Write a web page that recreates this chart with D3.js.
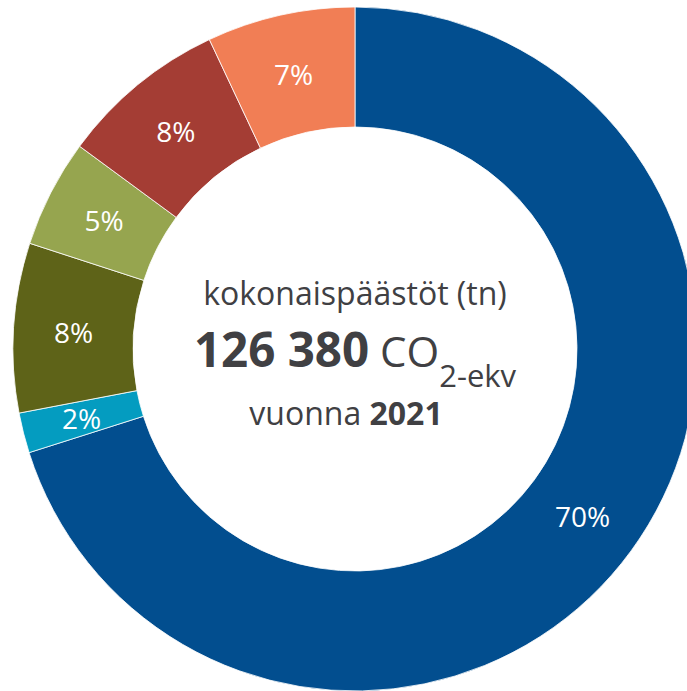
<!DOCTYPE html>
<html>
<head>
    <meta charset="utf-8">
    <title>kokonaispaastot</title>
    <style>
        body { margin: 0; background: #fff; }
    </style>
</head>
<body>
<script src="https://cdn.jsdelivr.net/npm/d3@7"></script>
<script>
    // slices clockwise from 12 o'clock
    var shares = [70.1, 1.9, 8.0, 5.1, 7.9, 7.0];
    var labels = ["70%", "2%", "8%", "5%", "8%", "7%"];
    var colors = ["#024e8f", "#049cc0", "#5e6318", "#96a54f", "#a43d34", "#f17e55"];

    var width = 687, height = 691;
    var cx = 355, cy = 349;
    var outerR = 342, innerR = 222;

    var svg = d3.select("body").append("svg")
        .attr("width", width).attr("height", height);

    var g = svg.append("g").attr("transform", "translate(" + cx + "," + cy + ")");

    var pie = d3.pie().sort(null).value(function (d) { return d; });
    var arcs = pie(shares);

    var arc = d3.arc().innerRadius(innerR).outerRadius(outerR);

    g.selectAll("path")
        .data(arcs)
        .enter()
        .append("path")
        .attr("d", arc)
        .attr("fill", function (d, i) { return colors[i]; })
        .attr("stroke", "#fff")
        .attr("stroke-width", 0.8);

    g.selectAll("text.pct")
        .data(arcs)
        .enter()
        .append("text")
        .attr("class", "pct")
        .attr("x", function (d) { return arc.centroid(d)[0]; })
        .attr("y", function (d) { return arc.centroid(d)[1]; })
        .attr("dy", "0.4em")
        .attr("text-anchor", "middle")
        .attr("font-family", "'Open Sans', sans-serif")
        .attr("font-size", "28px")
        .attr("fill", "#fff")
        .text(function (d, i) { return labels[i]; });

    // centre text
    var textColor = "#404043";
    var font = "'Open Sans', sans-serif";

    g.append("text")
        .attr("x", 0).attr("y", -44)
        .attr("text-anchor", "middle")
        .attr("font-family", font)
        .attr("font-size", "32px")
        .attr("fill", textColor)
        .text("kokonaispäästöt (tn)");

    var t2 = g.append("text")
        .attr("x", 0).attr("y", 18)
        .attr("text-anchor", "middle")
        .attr("font-family", font)
        .attr("fill", textColor);
    t2.append("tspan").attr("font-weight", "bold").attr("font-size", "47.5px").text("126 380");
    t2.append("tspan").attr("font-size", "42px").text(" CO");
    t2.append("tspan").attr("font-size", "31px").attr("dy", 20).text("2-ekv");

    var t3 = g.append("text")
        .attr("x", -9).attr("y", 76)
        .attr("text-anchor", "middle")
        .attr("font-family", font)
        .attr("font-size", "32px")
        .attr("fill", textColor);
    t3.append("tspan").text("vuonna ");
    t3.append("tspan").attr("font-weight", "bold").text("2021");
</script>
</body>
</html>
